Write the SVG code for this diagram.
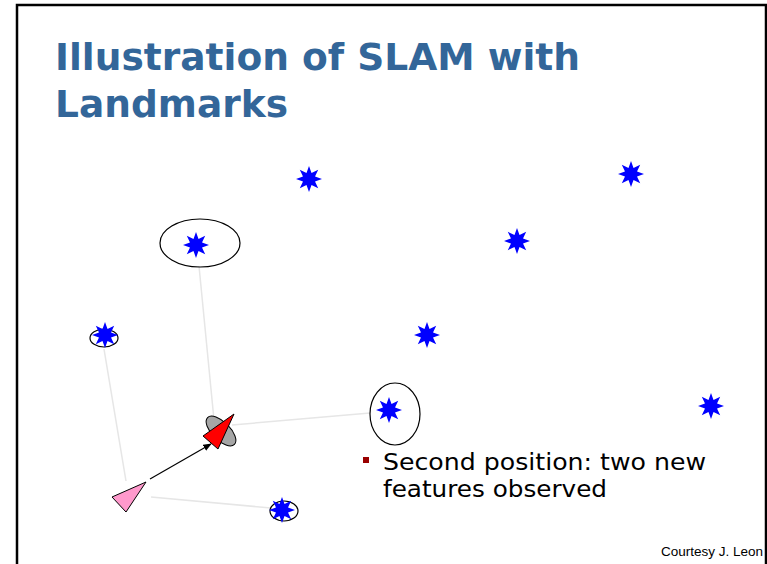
<svg xmlns="http://www.w3.org/2000/svg" xmlns:xlink="http://www.w3.org/1999/xlink" width="767" height="564" viewBox="0 0 767 564">
  <style>
    .title { font-family: "DejaVu Sans", Verdana, sans-serif; font-weight: bold; font-size: 38px; fill: #336699; }
    .body { font-family: "DejaVu Sans", Verdana, sans-serif; font-size: 23px; fill: #000; }
    .credit { font-family: "Liberation Sans", Arial, sans-serif; font-size: 13.5px; fill: #000; }
    .obs { stroke: #e6e6e6; stroke-width: 1.5; fill: none; }
    .cov { fill: none; stroke: #000; stroke-width: 1.2; }
    .lm { fill: #0000ff; }
  </style>
  <defs>
    <!-- eight-pointed landmark star -->
    <g id="star">
      <polygon class="lm" points="0,-13 2.5,-6 9.2,-9.2 6,-2.5 13,0 6,2.5 9.2,9.2 2.5,6 0,13 -2.5,6 -9.2,9.2 -6,2.5 -13,0 -6,-2.5 -9.2,-9.2 -2.5,-6"/>
      <circle class="lm" r="6.5"/>
    </g>
    <marker id="arrow" viewBox="0 0 10 10" refX="9" refY="5" markerWidth="7" markerHeight="7" orient="auto">
      <path d="M0,1 L10,5 L0,9 z" fill="#000"/>
    </marker>
  </defs>

  <rect width="767" height="564" fill="#fff"/>

  <text class="title" x="55" y="70" textLength="525" lengthAdjust="spacingAndGlyphs">Illustration of SLAM with</text>
  <text class="title" x="55" y="117" textLength="233" lengthAdjust="spacingAndGlyphs">Landmarks</text>

  <!-- observation lines and motion -->
  <g id="connectors">
    <line class="obs" x1="126" y1="481" x2="104" y2="349"/>
    <line class="obs" x1="151" y1="497" x2="271" y2="508"/>
    <line class="obs" x1="214" y1="420" x2="199" y2="266"/>
    <line class="obs" x1="232" y1="425" x2="370" y2="413"/>
    <line x1="150" y1="479" x2="211" y2="444" stroke="#000" stroke-width="1.2" marker-end="url(#arrow)"/>
  </g>

  <!-- landmarks -->
  <g id="lm1"><use xlink:href="#star" x="309" y="179"/></g>
  <g id="lm2"><use xlink:href="#star" x="631" y="174"/></g>
  <g id="lm3"><ellipse class="cov" cx="200" cy="243" rx="40" ry="24"/><use xlink:href="#star" x="196" y="245"/></g>
  <g id="lm4"><use xlink:href="#star" x="517" y="241"/></g>
  <g id="lm5"><ellipse class="cov" cx="104" cy="338" rx="14" ry="9"/><use xlink:href="#star" x="105" y="335"/></g>
  <g id="lm6"><use xlink:href="#star" x="427" y="335"/></g>
  <g id="lm7"><ellipse class="cov" cx="395" cy="414" rx="25" ry="31"/><use xlink:href="#star" x="389" y="410"/></g>
  <g id="lm8"><use xlink:href="#star" x="711" y="406"/></g>
  <g id="lm9"><ellipse class="cov" cx="284" cy="511" rx="14" ry="10"/><use xlink:href="#star" x="282" y="510"/></g>

  <!-- first robot pose -->
  <g id="pose1">
    <polygon points="112,497 146,482 126,512" fill="#ff99cc" stroke="#000" stroke-width="1"/>
  </g>

  <!-- second robot pose with uncertainty -->
  <g id="pose2">
    <ellipse cx="221" cy="431" rx="19" ry="9" transform="rotate(45 221 431)" fill="#a6a6a6" stroke="#000" stroke-width="1"/>
    <polygon points="203,436 234,414 218,449" fill="#ff0000" stroke="#000" stroke-width="1"/>
  </g>

  <!-- caption -->
  <g id="caption">
    <rect x="363" y="457" width="6" height="6" fill="#990000"/>
    <text class="body" x="383" y="470" textLength="323" lengthAdjust="spacingAndGlyphs">Second position: two new</text>
    <text class="body" x="383" y="497" textLength="224" lengthAdjust="spacingAndGlyphs">features observed</text>
  </g>

  <text class="credit" x="661" y="556">Courtesy J. Leon</text>

  <!-- slide frame, drawn last so it clips the credit line -->
  <rect x="766" y="0" width="1" height="564" fill="#fff"/>
  <path d="M17,564 V5 H766 V564" fill="none" stroke="#000" stroke-width="2.5"/>
</svg>
